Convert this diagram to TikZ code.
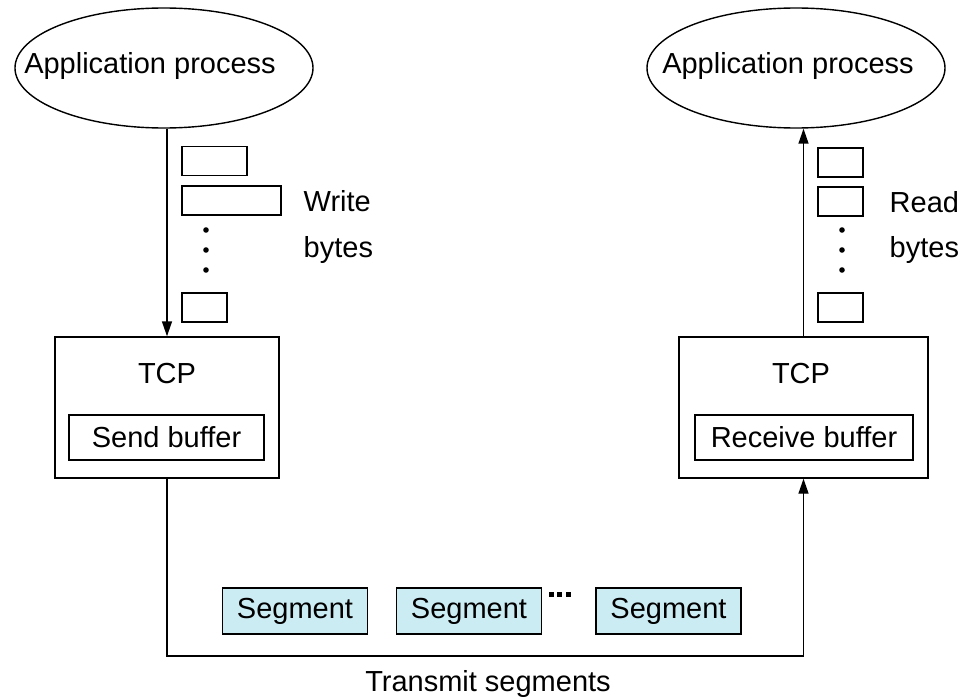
\documentclass[tikz,border=0pt]{standalone}
\usepackage{fontspec}
\setmainfont{Liberation Sans}
\usepackage{tikz}
\usetikzlibrary{arrows.meta}
\usetikzlibrary{shapes.geometric}

\definecolor{segfill}{RGB}{204,236,244}

\begin{document}
\begin{tikzpicture}[x=1pt, y=-1pt, line width=1.4pt,
    every node/.style={font=\fontsize{29}{34}\selectfont, inner sep=0pt},
    proc/.style={draw, ellipse, minimum width=298pt, minimum height=120pt},
    tcpbox/.style={draw, rectangle, minimum height=141pt},
    bufbox/.style={draw, rectangle, minimum height=45pt},
    bytebox/.style={draw, rectangle, minimum height=29pt},
    segbox/.style={draw, rectangle, fill=segfill, minimum width=145pt, minimum height=46pt},
    flow/.style={-{Triangle[length=15pt, width=10pt]}}]
\useasboundingbox (0, 0) rectangle (961, 698);
% sender side
\node[proc] (srcapp) at (164, 68) {};
\node[anchor=base] (srctxt) at (150, 74) {Application process};
\node[tcpbox, minimum width=224pt] (sendtcp) at (167, 407.5) {};
\node[anchor=base] (sendlbl) at (167, 383) {TCP};
\node[bufbox, minimum width=195pt] (sendbuf) at (166.5, 437.5) {Send buffer};
\node[bytebox, minimum width=65pt] (wr1) at (214.5, 161) {};
\node[bytebox, minimum width=99pt] (wr2) at (231.5, 200.5) {};
\node[bytebox, minimum width=45pt] (wr3) at (204.5, 307.5) {};
\foreach \y in {230, 250, 270}
    \fill (206, \y) circle (2.8);
\node[anchor=base west] (wrtxt) at (303, 211) {Write};
\node[anchor=base west] (wrbytes) at (303, 257) {bytes};
% receiver side
\node[proc] (dstapp) at (796, 68) {};
\node[anchor=base] (dsttxt) at (788, 74) {Application process};
\node[tcpbox, minimum width=249pt] (recvtcp) at (803.5, 407.5) {};
\node[anchor=base] (recvlbl) at (801, 383) {TCP};
\node[bufbox, minimum width=218pt] (recvbuf) at (804, 437.5) {Receive buffer};
\node[bytebox, minimum width=45pt] (rd1) at (840.5, 162.5) {};
\node[bytebox, minimum width=45pt] (rd2) at (840.5, 201.5) {};
\node[bytebox, minimum width=45pt] (rd3) at (840.5, 307.5) {};
\foreach \y in {230, 250, 270}
    \fill (842, \y) circle (2.8);
\node[anchor=base west] (rdtxt) at (889, 212) {Read};
\node[anchor=base west] (rdbytes) at (889, 257) {bytes};
% segments on the wire
\node[segbox] (seg1) at (295, 611) {Segment};
\node[segbox] (seg2) at (469, 611) {Segment};
\node[segbox] (seg3) at (668.5, 611) {Segment};
\foreach \x in {551, 559.5, 568}
    \fill (\x-2.5, 592) rectangle (\x+2.5, 597);
\coordinate (bus) at (488, 656);
\node[anchor=base] (bustxt) at (488, 691) {Transmit segments};
% connectors
\draw[flow] (sendtcp.north |- srcapp.south) -- (sendtcp.north);
\draw[flow] (sendtcp.south) |- (bus) -| (recvtcp.south);
\draw[flow] (recvtcp.north) -- (recvtcp.north |- dstapp.south);
\end{tikzpicture}
\end{document}
